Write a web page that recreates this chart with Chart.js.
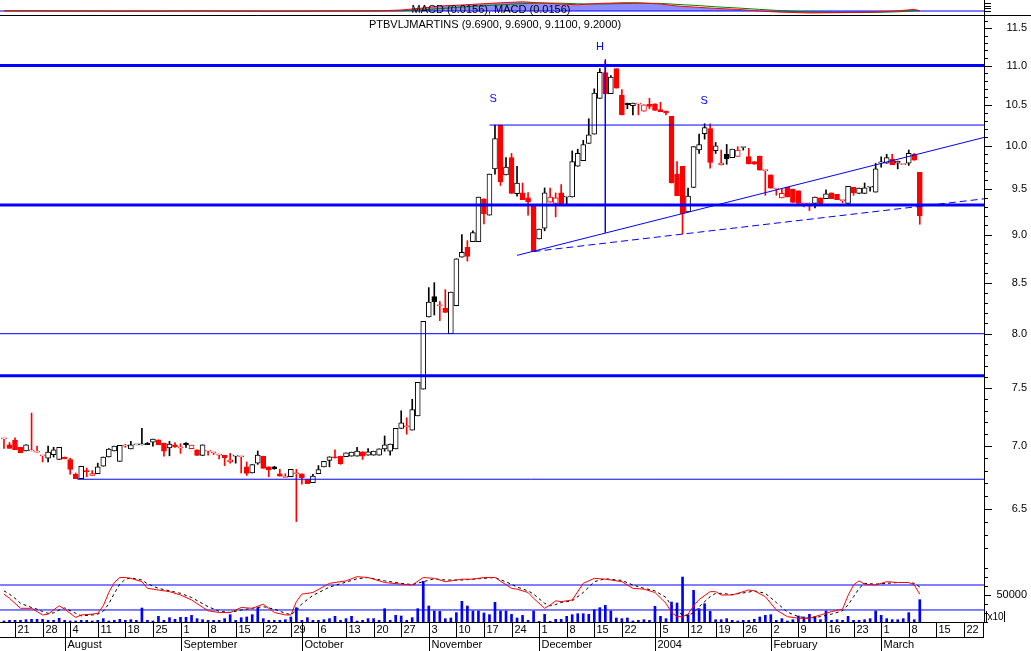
<!DOCTYPE html>
<html>
<head>
<meta charset="utf-8">
<title>PTBVLJMARTINS</title>
<script src="https://cdn.jsdelivr.net/npm/chart.js@4.4.1/dist/chart.umd.min.js"></script>
<style>
  html, body { margin:0; padding:0; background:#ffffff; }
  body { width:1031px; height:651px; position:relative; overflow:hidden; }
  canvas { position:absolute; left:0; }
</style>
</head>
<body>
<canvas id="macdChart" width="1031" height="16" style="top:0px"></canvas>
<canvas id="priceChart" width="1031" height="547" style="top:15px"></canvas>
<canvas id="volChart" width="1031" height="89" style="top:562px"></canvas>
<script>
// ---------------- DATA ----------------
const symbol = 'PTBVLJMARTINS';
const priorClose = 7.10;

const opens = [7.06,7.01,7.05,6.99,6.96,6.96,6.95,6.92,6.90,6.93,
6.89,6.91,6.89,6.77,6.735,6.80,6.76,6.775,6.835,6.91,
6.96,6.875,7.0,6.977,7.011,7.011,7.026,7.034,7.052,7.026,
6.985,7.01,6.985,7.026,6.979,6.97,6.923,6.958,6.945,6.925,
6.924,6.87,6.917,6.912,6.83,6.78,6.86,6.917,6.83,6.83,
6.774,6.745,6.75,6.774,6.774,6.728,6.702,6.774,6.83,6.882,
6.912,6.917,6.912,6.917,6.917,6.953,6.925,6.925,6.925,6.977,
6.958,6.977,7.149,7.163,7.135,7.256,7.49,8.16,8.36,8.27,
8.245,8.00,8.27,8.76,8.865,8.925,8.925,9.39,9.21,9.73,
10.25,9.659,9.86,9.448,9.456,9.40,9.31,8.952,9.068,9.353,
9.338,9.456,9.41,9.41,9.76,9.826,10.028,10.14,10.58,10.91,
10.64,10.96,10.62,10.52,10.49,10.508,10.42,10.505,10.51,10.44,
10.42,10.355,9.67,9.76,9.245,9.517,9.95,10.146,10.206,9.943,
9.775,9.90,9.861,9.876,9.98,9.872,9.814,9.88,9.71,9.66,
9.50,9.40,9.52,9.50,9.48,9.335,9.33,9.34,9.40,9.393,
9.456,9.44,9.37,9.34,9.52,9.45,9.45,9.52,9.465,9.80,
9.795,9.84,9.795,9.78,9.795,9.90,9.69];
const highs = [7.06,7.03,7.07,6.99,7.01,7.28,7.00,6.92,7.00,6.99,
6.99,6.91,6.90,6.78,6.835,6.82,6.80,6.86,6.91,6.98,
7.0,7.006,7.015,7.04,7.011,7.15,7.03,7.058,7.052,7.026,
7.04,7.03,7.02,7.03,7.008,6.97,7.011,6.958,6.945,6.935,
6.924,6.94,6.917,6.912,6.87,6.848,6.96,6.917,6.83,6.834,
6.81,6.774,6.81,6.81,6.774,6.728,6.77,6.84,6.875,6.912,
6.97,6.917,6.945,6.95,6.99,6.953,6.98,6.958,6.977,7.085,
7.018,7.149,7.30,7.24,7.40,7.551,8.118,8.45,8.50,8.311,
8.43,8.405,8.745,9.0,8.935,9.04,9.409,9.39,9.67,10.25,
10.25,9.86,9.91,9.76,9.568,9.46,9.31,9.058,9.512,9.51,
9.456,9.55,9.41,9.94,9.96,10.066,10.327,10.70,10.96,11.05,
10.87,10.96,10.69,10.52,10.52,10.508,10.50,10.58,10.51,10.53,
10.42,10.355,9.815,9.76,9.51,9.99,10.14,10.266,10.266,10.04,
9.95,10.016,9.96,9.99,9.98,9.97,9.814,9.88,9.71,9.66,
9.50,9.50,9.52,9.50,9.48,9.335,9.345,9.41,9.40,9.49,
9.456,9.44,9.37,9.53,9.52,9.51,9.568,9.52,9.795,9.87,
9.90,9.90,9.82,9.78,9.95,9.91,9.69];
const lows = [6.98,6.98,6.97,6.945,6.96,6.96,6.95,6.87,6.87,6.91,
6.89,6.895,6.77,6.735,6.735,6.75,6.76,6.775,6.835,6.91,
6.96,6.875,6.99,6.977,7.011,7.011,7.012,7.00,7.012,6.918,
6.92,6.99,6.94,6.99,6.979,6.923,6.923,6.925,6.93,6.895,
6.84,6.86,6.86,6.78,6.76,6.78,6.85,6.818,6.75,6.81,
6.755,6.745,6.75,6.40,6.69,6.695,6.702,6.774,6.83,6.83,
6.90,6.85,6.912,6.917,6.917,6.89,6.925,6.925,6.925,6.958,
6.925,6.977,7.149,7.10,7.135,7.256,7.49,8.16,8.18,8.125,
8.204,8.00,8.27,8.76,8.72,8.925,8.925,9.115,9.21,9.67,
9.54,9.659,9.45,9.42,9.38,9.21,8.82,8.952,9.04,9.353,
9.19,9.328,9.328,9.41,9.76,9.826,10.028,10.14,10.58,10.64,
10.64,10.71,10.375,10.45,10.375,10.375,10.42,10.45,10.43,10.415,
10.375,9.568,9.425,9.005,9.245,9.517,9.91,10.08,9.738,9.91,
9.775,9.783,9.861,9.876,9.95,9.787,9.783,9.716,9.43,9.51,
9.43,9.40,9.41,9.35,9.34,9.30,9.26,9.29,9.33,9.393,
9.393,9.38,9.346,9.34,9.43,9.45,9.45,9.475,9.465,9.75,
9.795,9.78,9.73,9.78,9.77,9.83,9.11];
const closes = [7.06,6.98,6.97,6.945,7.01,6.96,6.95,6.92,6.95,6.97,
6.99,6.895,6.81,6.735,6.835,6.79,6.775,6.83,6.91,6.975,
7.0,7.006,7.0,7.011,7.011,7.011,7.012,7.058,7.012,6.958,
7.018,6.993,6.985,7.012,7.008,6.923,7.011,6.958,6.945,6.925,
6.904,6.886,6.917,6.912,6.776,6.848,6.925,6.818,6.804,6.816,
6.755,6.745,6.81,6.774,6.742,6.695,6.755,6.808,6.875,6.912,
6.904,6.856,6.945,6.95,6.958,6.917,6.953,6.958,6.977,7.011,
7.018,7.149,7.196,7.163,7.31,7.551,8.118,8.305,8.311,8.27,
8.204,8.405,8.745,8.813,8.77,9.02,9.409,9.225,9.67,10.087,
9.58,9.75,9.45,9.568,9.38,9.357,8.82,9.058,9.456,9.41,
9.40,9.328,9.41,9.815,9.91,10.016,10.13,10.647,10.912,10.64,
10.85,10.71,10.375,10.50,10.52,10.508,10.50,10.48,10.43,10.415,
10.40,9.568,9.425,9.226,9.42,9.99,10.016,10.218,9.806,10.0,
9.80,9.845,9.96,9.95,9.98,9.787,9.783,9.716,9.71,9.51,
9.50,9.45,9.41,9.35,9.34,9.335,9.33,9.41,9.33,9.445,
9.393,9.38,9.37,9.53,9.456,9.51,9.512,9.52,9.73,9.80,
9.86,9.78,9.82,9.78,9.911,9.83,9.20];

const volumes = [1900,3100,3100,3100,4300,4900,4900,4900,3100,3100,
6800,3100,1900,1900,3100,3100,1900,3100,6200,1900,
3100,4900,3100,4300,3100,25900,3100,1900,10500,3100,
8000,4900,8600,8600,12300,6200,4300,3100,3100,3100,
6200,13600,3100,8000,9300,13600,26500,6200,3100,3100,
3100,4300,9300,26500,3100,8000,3100,3100,4300,6200,
10500,3100,6200,10500,1900,3100,6200,6200,3100,24700,
3100,12300,11100,3100,8000,24700,75300,29600,20400,19700,
6200,7400,17300,38300,29600,20400,20400,16700,13600,36400,
20400,20400,14200,7400,12300,3100,20400,1200,14200,1200,
4900,4900,10500,13600,15400,15400,14200,22800,26500,30900,
20400,7400,6200,7400,1900,3100,4300,3100,29000,10500,
6200,37000,35200,83300,13600,58600,24700,33900,19700,4300,
4300,6200,3100,1900,3100,3100,4900,9300,12300,13600,
3100,6200,1900,4300,11100,9300,14200,10500,4300,20400,
3100,4300,3100,10500,3100,3100,4300,6200,20400,12300,
6200,4300,4300,6200,17300,4300,41300];

const stochIdx = [0,1,2,3,5,6,7,8,9,10,11,13,14,16,17,18,19,20,21,22,
23,25,26,28,30,32,34,37,39,41,43,45,47,49,51,52,53,54,56,59,
62,64,66,69,72,74,76,78,80,83,85,87,89,92,93,95,96,98,99,100,
101,103,105,107,109,112,114,116,118,120,121,122,123,124,125,126,128,129,130,132,
135,136,138,140,142,144,146,148,150,152,153,154,155,156,158,160,162,164,165,166];
const stochK = [58,48,36,24,24,16,8,10,20,30,22,2,8,10,12,30,62,86,98,98,
96,88,72,68,64,56,44,18,14,14,26,24,34,14,8,8,40,58,62,84,
90,100,98,86,82,80,98,96,88,94,94,98,98,72,70,62,48,24,32,42,
40,44,84,96,94,88,72,70,62,36,14,4,4,10,30,45,64,64,56,56,
68,66,52,20,4,0,0,8,16,22,55,80,90,82,80,88,86,86,80,58];
const stochD = [66,58,48,36,26,22,16,12,13,20,25,12,6,8,10,17,35,60,82,94,
97,92,83,72,66,60,50,28,17,14,20,24,28,22,12,9,18,35,55,75,
87,95,98,90,84,81,88,95,92,92,94,96,98,82,75,66,58,36,30,33,
38,42,62,88,95,91,80,72,66,50,30,18,8,6,14,28,52,60,60,57,
63,66,60,38,15,4,0,4,10,18,32,52,72,84,82,84,86,86,84,75];
const stochLevels = [80, 20];

const macdIdx = [0,12,24,36,48,60,68,72,76,79,83,86,90,94,97,101,104,108,112,115,119,122,126,129,133,137,140,146,152,158,162,165,166];
const macdLine = [0.01,0.0,-0.01,0.0,-0.01,0.0,0.01,0.05,0.15,0.25,0.30,0.35,0.41,0.46,0.41,0.35,0.31,0.38,0.41,0.41,0.35,0.25,0.18,0.13,0.08,0.0,-0.05,-0.10,-0.08,-0.05,0.01,0.08,0.01];
const macdSignal = [0.01,0.0,0.0,0.0,-0.01,0.0,0.0,0.01,0.06,0.12,0.20,0.25,0.31,0.37,0.40,0.39,0.36,0.35,0.37,0.39,0.38,0.33,0.27,0.21,0.15,0.08,0.03,-0.05,-0.08,-0.07,-0.04,0.0,0.01];
const macdLabelValues = [0.0156, 0.0156];
const macdTicks = [0, 0.13, 0.26, 0.39];

const levelPrices = [11.0, 10.25, 9.32, 8.0, 7.61, 6.73];
const levelFrom   = [null, 88, null, null, null, 13.3];
const levelHeavy  = [true, false, true, false, true, false];

const trendFromIdx = [93, 96];
const trendFromPrice = [8.78, 8.82];
const trendToPrice = [10.10, 9.39];
const trendDashed = [false, true];

const headIdx = 109;
const headLineTop = 11.08, headLineBottom = 9.02;

const patternLabels = ['S', 'H', 'S'];
const patternIdx = [88.65, 108.04, 126.9];
const patternPrice = [10.57, 11.24, 10.55];

const priceTicks = [6.5,7.0,7.5,8.0,8.5,9.0,9.5,10.0,10.5,11.0,11.5];
const volTicks = [50000];
const volUnitLabel = 'x10';

const weekIdx = [2,7,12,17,22,27,32,37,42,47,52,57,62,67,72,77,82,87,92,97,102,107,112,119,124,129,134,139,144,149,154,159,164,169,174];
const weekLabels = ['21','28','4','11','18','25','1','8','15','22','29','6','13','20','27','3','10','17','24','1','8','15','22','5','12','19','26','2','9','16','23','1','8','15','22'];
const monthIdx = [11,32,54,77,97,118,139,159];
const monthLabels = ['August','September','October','November','December','2004','February','March'];

// ---------------- LAYOUT / STYLE ----------------
const FONT = "'Liberation Sans', Arial, Helvetica, sans-serif";
const X_MIN = -0.72, X_MAX = 177.64;
const AXIS_W = 43, PAD_R = 4;
const P_MIN = 6.147, P_MAX = 11.681;
const V_MAX = 111111;
const S_MIN = -8.9, S_MAX = 135.3;
const M_MIN = -0.2, M_MAX = 0.55;
const BLUE = '#0000ff', RED = '#ff0000', BLACK = '#000000';

Chart.defaults.font.family = FONT;
Chart.defaults.font.size = 11;
Chart.defaults.color = BLACK;

function textWidth(t, size) {
  const c = document.createElement('canvas').getContext('2d');
  c.font = (size || 11) + 'px ' + FONT;
  return c.measureText(t).width;
}
function fitAxis(s) { s.width = AXIS_W; s.paddingTop = 0; s.paddingBottom = 0; }
const common = {
  responsive: false, animation: false, devicePixelRatio: 1, events: [],
  plugins: { legend: { display: false }, tooltip: { enabled: false } }
};
const xScale = { type: 'linear', min: X_MIN, max: X_MAX, display: false, offset: false };
function hline(ctx, x1, y1, x2, y2) { ctx.beginPath(); ctx.moveTo(x1, y1); ctx.lineTo(x2, y2); ctx.stroke(); }

// ---------------- MACD STRIP ----------------
new Chart(document.getElementById('macdChart'), {
  type: 'line',
  data: { datasets: [
    { data: macdIdx.map((d, k) => ({ x: d, y: macdLine[k] })), yAxisID: 'm', borderColor: RED, borderWidth: 1, pointRadius: 0, order: 0 },
    { data: macdIdx.map((d, k) => ({ x: d, y: macdSignal[k] })), yAxisID: 'm', borderColor: '#008000', borderWidth: 1, pointRadius: 0, order: 1 },
    { data: [{ x: X_MIN, y: 0 }, { x: X_MAX, y: 0 }], yAxisID: 'm', borderColor: BLUE, borderWidth: 1, pointRadius: 0, order: 2 },
    { data: macdIdx.map((d, k) => ({ x: d, y: macdLine[k] })), yAxisID: 'm', borderWidth: 0, pointRadius: 0, fill: 'origin', backgroundColor: 'rgba(0,0,255,0.45)', order: 3 }
  ]},
  options: Object.assign({}, common, {
    layout: { padding: { left: 0, right: PAD_R, top: 0, bottom: 1 } },
    scales: {
      x: xScale,
      m: { position: 'right', min: M_MIN, max: M_MAX, ticks: { display: false },
           grid: { drawOnChartArea: false, drawTicks: false }, border: { color: BLACK, width: 1 },
           afterFit: fitAxis }
    }
  }),
  plugins: [{
    id: 'macdDecor',
    afterDraw(chart) {
      const { ctx, chartArea, scales: { m } } = chart;
      ctx.save();
      ctx.strokeStyle = BLACK; ctx.lineWidth = 1;
      hline(ctx, 0, chartArea.bottom + 0.5, chart.width, chartArea.bottom + 0.5);
      macdTicks.forEach(v => { const py = Math.round(m.getPixelForValue(v)) + 0.5; hline(ctx, chartArea.right, py, chartArea.right + 7, py); });
      ctx.fillStyle = BLACK; ctx.font = '11px ' + FONT; ctx.textAlign = 'center'; ctx.textBaseline = 'middle';
      ctx.fillText('MACD (' + macdLabelValues[0].toFixed(4) + '), MACD (' + macdLabelValues[1].toFixed(4) + ')', chartArea.right / 2 - 1, 10);
      ctx.restore();
    }
  }]
});

// ---------------- PRICE PANEL ----------------
const dayIdx = opens.map((_, i) => i);
const isUp = i => closes[i] >= (i > 0 ? closes[i - 1] : priorClose);
const candleCol = i => isUp(i) ? BLACK : RED;

const priceDatasets = [];
levelPrices.forEach((p, k) => {
  priceDatasets.push({ type: 'line', yAxisID: 'y', order: 1, pointRadius: 0, borderColor: BLUE,
    borderWidth: levelHeavy[k] ? 3 : 1,
    data: [{ x: levelFrom[k] === null ? X_MIN : levelFrom[k], y: p }, { x: X_MAX, y: p }] });
});
trendFromIdx.forEach((d, k) => {
  priceDatasets.push({ type: 'line', yAxisID: 'y', order: 1, pointRadius: 0, borderColor: BLUE, borderWidth: 1,
    borderDash: trendDashed[k] ? [7, 4] : [],
    data: [{ x: d, y: trendFromPrice[k] }, { x: X_MAX, y: trendToPrice[k] }] });
});
priceDatasets.push({ type: 'line', yAxisID: 'y', order: 1, pointRadius: 0, borderColor: BLUE, borderWidth: 1,
  data: [{ x: headIdx, y: headLineTop }, { x: headIdx, y: headLineBottom }] });
priceDatasets.push({ type: 'bar', yAxisID: 'y', order: 2, grouped: false, barThickness: 5, minBarLength: 1,
  borderWidth: 1, borderSkipped: false,
  data: dayIdx.map(i => ({ x: i, y: [Math.min(opens[i], closes[i]), Math.max(opens[i], closes[i])] })),
  backgroundColor: c => closes[c.dataIndex] < opens[c.dataIndex] ? candleCol(c.dataIndex) : '#ffffff',
  borderColor: c => candleCol(c.dataIndex) });
priceDatasets.push({ type: 'bar', yAxisID: 'y', order: 3, grouped: false, barThickness: 1, borderWidth: 0,
  data: dayIdx.map(i => ({ x: i, y: [lows[i], highs[i]] })),
  backgroundColor: c => candleCol(c.dataIndex) });

new Chart(document.getElementById('priceChart'), {
  type: 'bar',
  data: { datasets: priceDatasets },
  options: Object.assign({}, common, {
    layout: { padding: { left: 0, right: PAD_R, top: 0, bottom: 0 } },
    scales: {
      x: xScale,
      y: { type: 'logarithmic', position: 'right', min: P_MIN, max: P_MAX,
           afterBuildTicks: s => { s.ticks = priceTicks.map(v => ({ value: v })); },
           afterFit: fitAxis,
           ticks: { autoSkip: false, crossAlign: 'far', padding: AXIS_W - textWidth('11.5'),
                    callback: v => Number(v).toFixed(1), font: { size: 11 }, color: BLACK },
           grid: { drawOnChartArea: false, drawTicks: false },
           border: { color: BLACK, width: 1 } }
    }
  }),
  plugins: [{
    id: 'priceDecor',
    afterDraw(chart) {
      const { ctx, chartArea, scales: { x, y } } = chart;
      ctx.save();
      ctx.strokeStyle = BLACK; ctx.lineWidth = 1;
      for (let t = 61; t <= 117; t++) {
        const py = Math.round(y.getPixelForValue(t / 10)) + 0.5;
        if (py < chartArea.top || py > chartArea.bottom) continue;
        hline(ctx, chartArea.right, py, chartArea.right + (t % 5 === 0 ? 8 : 4), py);
      }
      ctx.font = '11px ' + FONT; ctx.textAlign = 'center'; ctx.textBaseline = 'middle';
      ctx.fillStyle = BLACK;
      const n = closes.length - 1;
      const title = symbol + ' (' + opens[n].toFixed(4) + ', ' + highs[n].toFixed(4) + ', ' + lows[n].toFixed(4) + ', ' + closes[n].toFixed(4) + ')';
      ctx.fillText(title, chartArea.right / 2 + 3, chartArea.top + 10);
      ctx.fillStyle = BLUE;
      patternLabels.forEach((s, k) => ctx.fillText(s, x.getPixelForValue(patternIdx[k]), y.getPixelForValue(patternPrice[k])));
      ctx.restore();
    }
  }]
});

// ---------------- VOLUME / STOCHASTIC PANEL ----------------
const volDatasets = [
  { type: 'line', yAxisID: 's', order: 0, pointRadius: 0, borderColor: RED, borderWidth: 1,
    data: stochIdx.map((d, k) => ({ x: d, y: stochK[k] })) },
  { type: 'line', yAxisID: 's', order: 1, pointRadius: 0, borderColor: BLACK, borderWidth: 1, borderDash: [3, 3],
    data: stochIdx.map((d, k) => ({ x: d, y: stochD[k] })) }
];
stochLevels.forEach(l => volDatasets.push({ type: 'line', yAxisID: 's', order: 2, pointRadius: 0, borderColor: BLUE, borderWidth: 1,
  data: [{ x: X_MIN, y: l }, { x: X_MAX, y: l }] }));
volDatasets.push({ type: 'bar', yAxisID: 'v', order: 3, grouped: false, barThickness: 2, backgroundColor: BLUE,
  data: volumes.map((v, i) => ({ x: i, y: v })) });

new Chart(document.getElementById('volChart'), {
  type: 'bar',
  data: { datasets: volDatasets },
  options: Object.assign({}, common, {
    layout: { padding: { left: 0, right: PAD_R, top: 0, bottom: 29 } },
    scales: {
      x: xScale,
      s: { position: 'right', display: false, min: S_MIN, max: S_MAX },
      v: { position: 'right', min: 0, max: V_MAX,
           afterBuildTicks: s => { s.ticks = volTicks.map(v => ({ value: v })); },
           afterFit: fitAxis,
           ticks: { autoSkip: false, crossAlign: 'far', padding: AXIS_W - textWidth('50000'),
                    callback: v => String(v), font: { size: 11 }, color: BLACK },
           grid: { drawOnChartArea: false, drawTicks: false },
           border: { color: BLACK, width: 1 } }
    }
  }),
  plugins: [{
    id: 'dateAxis',
    afterDraw(chart) {
      const { ctx, chartArea, scales: { x, v } } = chart;
      const top = chartArea.bottom, mid = chartArea.bottom + 15, bot = chart.height;
      ctx.save();
      ctx.strokeStyle = BLACK; ctx.lineWidth = 1;
      const step = volTicks[0] / 3;
      for (let k = 0; k <= 6; k++) {
        const py = Math.round(v.getPixelForValue(k * step)) + 0.5;
        if (py < chartArea.top) continue;
        hline(ctx, chartArea.right, py, chartArea.right + (k === 3 ? 7 : 4), py);
      }
      const by = Math.round(v.getPixelForValue(0));
      const bx = chartArea.right + 2;
      hline(ctx, bx + 0.5, by - 11, bx + 0.5, by);
      hline(ctx, bx + 18.5, by - 11, bx + 18.5, by);
      ctx.font = '10px ' + FONT; ctx.fillStyle = BLACK; ctx.textAlign = 'center'; ctx.textBaseline = 'middle';
      ctx.fillText(volUnitLabel, bx + 9.5, by - 5);
      hline(ctx, 0, top + 0.5, chartArea.right, top + 0.5);
      hline(ctx, 0, mid + 0.5, chartArea.right, mid + 0.5);
      hline(ctx, chartArea.right - 0.5, top, chartArea.right - 0.5, mid);
      ctx.font = '11px ' + FONT; ctx.textAlign = 'left';
      weekIdx.forEach((d, k) => {
        const px = Math.round(x.getPixelForValue(d)) + 0.5;
        hline(ctx, px, top, px, mid);
        ctx.fillText(weekLabels[k], px + 2, top + 8);
      });
      monthIdx.forEach((d, k) => {
        const px = Math.round(x.getPixelForValue(d)) + 0.5;
        hline(ctx, px, top, px, bot);
        ctx.fillText(monthLabels[k], px + 2, mid + 8);
      });
      ctx.restore();
    }
  }]
});
</script>
</body>
</html>
